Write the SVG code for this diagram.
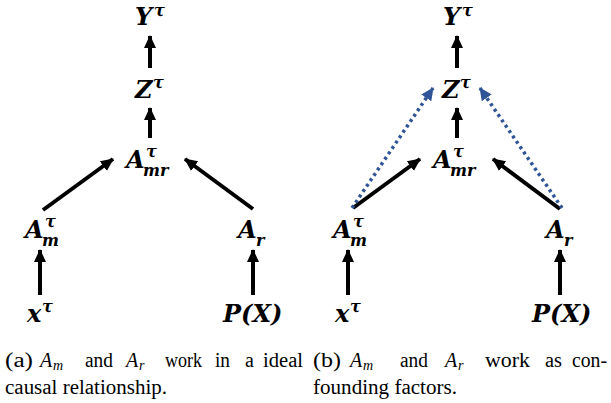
<svg xmlns="http://www.w3.org/2000/svg" width="611" height="403" viewBox="0 0 611 403">
<defs>
<style>
.n{font-family:"DejaVu Serif","Liberation Serif",serif;font-weight:bold;font-style:italic;font-size:24px;fill:#000}
.s{font-size:16px}
.c{font-family:"Liberation Serif","Times New Roman","DejaVu Serif",serif;font-size:20px;fill:#000}
.m{font-style:italic}
.ms{font-style:italic;font-size:14px}
.a{stroke:#000;stroke-width:4;fill:none;marker-end:url(#ah)}
.d{stroke:#2F5597;stroke-width:3.5;fill:none;stroke-dasharray:3 3.5;marker-end:url(#bh)}
</style>
<marker id="ah" markerUnits="userSpaceOnUse" markerWidth="14" markerHeight="14" viewBox="0 0 14 14" refX="12" refY="7" orient="auto">
<path d="M0,1 L13,7 L0,13 Z" fill="#000"/>
</marker>
<marker id="bh" markerUnits="userSpaceOnUse" markerWidth="14" markerHeight="14" viewBox="0 0 14 14" refX="12" refY="7" orient="auto">
<path d="M0,1 L13,7 L0,13 Z" fill="#2F5597"/>
</marker>
</defs>
<g id="connectors">
<line class="a" x1="150" y1="68" x2="150" y2="36"/>
<line class="a" x1="150" y1="138" x2="150" y2="108"/>
<line class="a" x1="43" y1="210" x2="113" y2="159"/>
<line class="a" x1="253" y1="209" x2="185" y2="159"/>
<line class="a" x1="40" y1="295" x2="40" y2="250"/>
<line class="a" x1="253" y1="295" x2="253" y2="250"/>
<line class="a" x1="457" y1="68" x2="457" y2="36"/>
<line class="a" x1="457" y1="138" x2="457" y2="108"/>
<line class="a" x1="353" y1="208" x2="420" y2="159"/>
<line class="a" x1="560" y1="209" x2="493" y2="159"/>
<line class="a" x1="348" y1="295" x2="348" y2="250"/>
<line class="a" x1="560" y1="295" x2="560" y2="250"/>
<line class="d" x1="352" y1="208" x2="433" y2="88"/>
<line class="d" x1="562" y1="208" x2="480" y2="88"/>
</g>
<g id="a-Y"><text class="n"><tspan x="135" y="25">Y</tspan><tspan class="s" x="154" y="16">τ</tspan></text></g>
<g id="a-Z"><text class="n"><tspan x="135" y="98">Z</tspan><tspan class="s" x="153" y="88">τ</tspan></text></g>
<g id="a-Amr"><text class="n"><tspan x="126" y="168">A</tspan><tspan class="s" x="146" y="157">τ</tspan><tspan class="s" x="143" y="176">mr</tspan></text></g>
<g id="a-Am"><text class="n"><tspan x="25" y="238">A</tspan><tspan class="s" x="45" y="227">τ</tspan><tspan class="s" x="42" y="246">m</tspan></text></g>
<g id="a-Ar"><text class="n"><tspan x="238" y="238">A</tspan><tspan class="s" x="256" y="246">r</tspan></text></g>
<g id="a-x"><text class="n"><tspan x="27" y="322">x</tspan><tspan class="s" x="42" y="312">τ</tspan></text></g>
<g id="a-P"><text class="n" x="223" y="322">P(X)</text></g>
<g id="b-Y"><text class="n"><tspan x="443" y="25">Y</tspan><tspan class="s" x="462" y="16">τ</tspan></text></g>
<g id="b-Z"><text class="n"><tspan x="442" y="98">Z</tspan><tspan class="s" x="460" y="88">τ</tspan></text></g>
<g id="b-Amr"><text class="n"><tspan x="433" y="168">A</tspan><tspan class="s" x="453" y="157">τ</tspan><tspan class="s" x="450" y="176">mr</tspan></text></g>
<g id="b-Am"><text class="n"><tspan x="333" y="238">A</tspan><tspan class="s" x="353" y="227">τ</tspan><tspan class="s" x="350" y="246">m</tspan></text></g>
<g id="b-Ar"><text class="n"><tspan x="546" y="238">A</tspan><tspan class="s" x="564" y="246">r</tspan></text></g>
<g id="b-x"><text class="n"><tspan x="335" y="322">x</tspan><tspan class="s" x="350" y="312">τ</tspan></text></g>
<g id="b-P"><text class="n" x="532" y="322">P(X)</text></g>
<g id="captions">
<text class="c" y="367"><tspan x="5" textLength="28" lengthAdjust="spacingAndGlyphs">(a)</tspan><tspan class="m" x="40">A</tspan><tspan class="ms" x="53" dy="3">m</tspan><tspan x="85" dy="-3" textLength="28" lengthAdjust="spacingAndGlyphs">and</tspan><tspan class="m" x="126">A</tspan><tspan class="ms" x="139" dy="3">r</tspan><tspan x="165" dy="-3" textLength="37" lengthAdjust="spacingAndGlyphs">work</tspan><tspan x="215" textLength="15" lengthAdjust="spacingAndGlyphs">in</tspan><tspan x="245">a</tspan><tspan x="263" textLength="40" lengthAdjust="spacingAndGlyphs">ideal</tspan></text>
<text class="c" x="5" y="394" textLength="162" lengthAdjust="spacingAndGlyphs">causal relationship.</text>
<text class="c" y="367"><tspan x="313" textLength="28" lengthAdjust="spacingAndGlyphs">(b)</tspan><tspan class="m" x="350">A</tspan><tspan class="ms" x="363" dy="3">m</tspan><tspan x="400" dy="-3" textLength="28" lengthAdjust="spacingAndGlyphs">and</tspan><tspan class="m" x="445">A</tspan><tspan class="ms" x="458" dy="3">r</tspan><tspan x="485" dy="-3" textLength="45" lengthAdjust="spacingAndGlyphs">work</tspan><tspan x="545" textLength="17" lengthAdjust="spacingAndGlyphs">as</tspan><tspan x="572" textLength="35" lengthAdjust="spacingAndGlyphs">con-</tspan></text>
<text class="c" x="313" y="394" textLength="144" lengthAdjust="spacingAndGlyphs">founding factors.</text>
</g>
</svg>
